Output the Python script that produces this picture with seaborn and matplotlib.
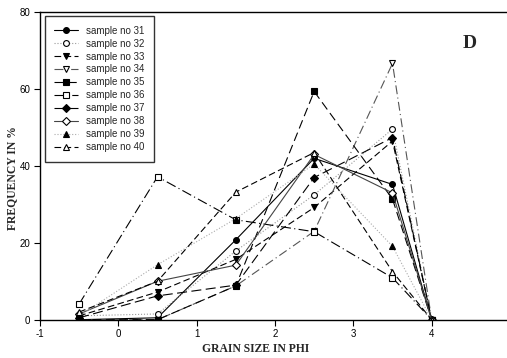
import matplotlib
matplotlib.use("Agg")
import matplotlib.pyplot as plt
import seaborn as sns
import pandas as pd

# grain size classes (phi) and frequency (%) of each sample
phi = [-0.5, 0.5, 1.5, 2.5, 3.5, 4.0]
s31 = [0.0, 0.5, 20.8, 42.0, 35.2, 0.0]
s32 = [1.0, 1.5, 17.9, 32.5, 49.6, 0.0]
s33 = [1.0, 7.2, 15.7, 29.2, 46.5, 0.0]
s34 = [0.0, 0.0, 8.8, 23.0, 66.7, 0.0]
s35 = [0.0, 0.0, 8.8, 59.4, 31.4, 0.0]
s36 = [4.1, 37.2, 26.0, 22.9, 10.9, 0.0]
s37 = [0.5, 6.2, 9.0, 37.0, 47.4, 0.0]
s38 = [1.5, 10.0, 14.2, 43.0, 33.0, 0.0]
s39 = [1.0, 14.3, 26.3, 40.5, 19.1, 0.0]
s40 = [2.0, 10.0, 33.2, 43.5, 12.5, 0.0]

samples = ["sample no 31", "sample no 32", "sample no 33", "sample no 34",
           "sample no 35", "sample no 36", "sample no 37", "sample no 38",
           "sample no 39", "sample no 40"]
values = [s31, s32, s33, s34, s35, s36, s37, s38, s39, s40]

frames = []
for name, vals in zip(samples, values):
    frames.append(pd.DataFrame({"phi": phi, "freq": vals, "sample": name}))
df = pd.concat(frames, ignore_index=True)

# marker, fill, line style, line colour for each sample
styles = {
    "sample no 31": ("o", "black", "-", "black"),
    "sample no 32": ("o", "white", ":", "#999999"),
    "sample no 33": ("v", "black", (0, (6, 3)), "black"),
    "sample no 34": ("v", "white", (0, (8, 3, 1, 3)), "#555555"),
    "sample no 35": ("s", "black", (0, (8, 4)), "black"),
    "sample no 36": ("s", "white", (0, (9, 3, 1, 3)), "black"),
    "sample no 37": ("D", "black", (0, (9, 4)), "black"),
    "sample no 38": ("D", "white", "-", "#444444"),
    "sample no 39": ("^", "black", ":", "#aaaaaa"),
    "sample no 40": ("^", "white", (0, (6, 3)), "black"),
}

sns.set_style("ticks")
plt.rcParams["font.family"] = ["Liberation Sans", "DejaVu Sans"]
plt.rcParams["axes.unicode_minus"] = False

fig = plt.figure(figsize=(5.07, 3.58), dpi=100)
ax = fig.add_axes([40 / 507, 38.3 / 358, 470 / 507, 307.4 / 358])

for name in samples:
    mk, fc, ls, lc = styles[name]
    sub = df[df["sample"] == name]
    sns.lineplot(data=sub, x="phi", y="freq", ax=ax, color=lc, linestyle=ls,
                 linewidth=0.8, marker=mk, markersize=4.2 if mk != "D" else 3.6,
                 markerfacecolor=fc, markeredgecolor="black",
                 markeredgewidth=0.8, label=name, estimator=None, sort=False)

ax.set_xlim(-1, 5)
ax.set_ylim(0, 80)
ax.set_xticks([-1, 0, 1, 2, 3, 4])
ax.set_yticks([0, 20, 40, 60, 80])
ax.tick_params(axis="both", direction="out", length=4, width=0.8,
               labelsize=7, pad=3, colors="black")
for side in ["left", "bottom", "top"]:
    ax.spines[side].set_visible(True)
    ax.spines[side].set_linewidth(1.0)
    ax.spines[side].set_color("black")
ax.spines["right"].set_visible(False)

serif = ["Liberation Serif", "DejaVu Serif"]
ax.set_xlabel("GRAIN SIZE IN PHI", fontsize=8.4, fontweight="bold",
              family=serif)
ax.set_ylabel("FREQUENCY IN %", fontsize=8.4, fontweight="bold",
              family=serif)
ax.xaxis.label.set_va("center")
ax.xaxis.set_label_coords((256 - 40) / 470, -0.095)
ax.yaxis.set_label_coords(-0.046, 0.46)
ax.text(4.49, 71.8, "D", fontsize=14, fontweight="bold", family=serif,
        ha="center", va="center")

leg = ax.legend(loc="upper left", bbox_to_anchor=(0.01, 0.988),
                borderaxespad=0, fontsize=7, frameon=True, fancybox=False,
                framealpha=1, edgecolor="#333333", handlelength=2.4,
                handletextpad=0.8, labelspacing=0.3, borderpad=1.0)
leg.get_frame().set_linewidth(1.0)

fig.savefig("out.png", dpi=100)
